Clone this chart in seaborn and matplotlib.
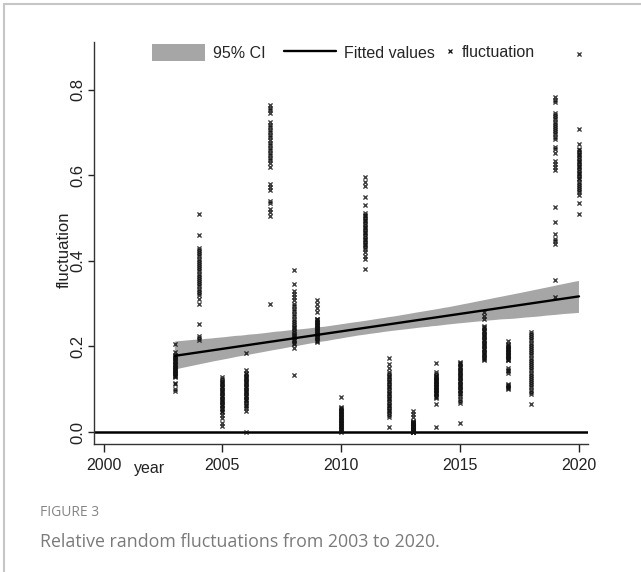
import matplotlib
matplotlib.use("Agg")
import numpy as np
import pandas as pd
import matplotlib.pyplot as plt
from matplotlib.lines import Line2D
from matplotlib.patches import Patch
from matplotlib.collections import PolyCollection
import seaborn as sns

# ---------------- data ----------------
years = [2003, 2004, 2005, 2006, 2007, 2008, 2009, 2010, 2011,
         2012, 2013, 2014, 2015, 2016, 2017, 2018, 2019, 2020]

fluct_2003 = [0.206, 0.187, 0.180, 0.178, 0.175, 0.172, 0.170, 0.168, 0.165, 0.163, 0.160,
              0.158, 0.156, 0.154, 0.152, 0.150, 0.148, 0.146, 0.144, 0.142, 0.140, 0.138,
              0.136, 0.134, 0.132, 0.130, 0.128, 0.115, 0.112, 0.100, 0.096]
fluct_2004 = [0.510, 0.460, 0.430, 0.425, 0.420, 0.415, 0.410, 0.405, 0.400, 0.395, 0.390,
              0.385, 0.380, 0.375, 0.370, 0.365, 0.360, 0.355, 0.350, 0.345, 0.340, 0.335,
              0.330, 0.325, 0.320, 0.310, 0.300, 0.252, 0.225, 0.220, 0.215]
fluct_2005 = [0.128, 0.124, 0.120, 0.117, 0.114, 0.111, 0.108, 0.105, 0.102, 0.099, 0.096,
              0.093, 0.090, 0.087, 0.084, 0.081, 0.078, 0.075, 0.072, 0.069, 0.066, 0.063,
              0.060, 0.057, 0.054, 0.050, 0.046, 0.040, 0.033, 0.020, 0.014]
fluct_2006 = [0.185, 0.145, 0.138, 0.135, 0.132, 0.129, 0.126, 0.123, 0.120, 0.117, 0.114,
              0.111, 0.108, 0.105, 0.102, 0.099, 0.096, 0.093, 0.090, 0.087, 0.084, 0.081,
              0.078, 0.075, 0.072, 0.068, 0.064, 0.060, 0.055, 0.050, 0.000]
fluct_2007 = [0.764, 0.758, 0.752, 0.745, 0.724, 0.718, 0.712, 0.706, 0.700, 0.694, 0.688,
              0.682, 0.676, 0.670, 0.664, 0.658, 0.652, 0.646, 0.640, 0.636, 0.628, 0.619,
              0.580, 0.572, 0.565, 0.540, 0.535, 0.520, 0.515, 0.505, 0.300]
fluct_2008 = [0.379, 0.346, 0.330, 0.322, 0.315, 0.308, 0.300, 0.294, 0.288, 0.282, 0.276,
              0.270, 0.265, 0.260, 0.255, 0.250, 0.246, 0.242, 0.238, 0.234, 0.230, 0.227,
              0.224, 0.221, 0.218, 0.215, 0.212, 0.208, 0.205, 0.196, 0.133]
fluct_2009 = [0.308, 0.300, 0.290, 0.280, 0.265, 0.263, 0.261, 0.259, 0.257, 0.255, 0.253,
              0.251, 0.249, 0.247, 0.245, 0.243, 0.241, 0.239, 0.237, 0.235, 0.233, 0.231,
              0.229, 0.227, 0.225, 0.223, 0.221, 0.219, 0.216, 0.213, 0.210]
fluct_2010 = [0.082, 0.058, 0.056, 0.054, 0.052, 0.050, 0.048, 0.046, 0.044, 0.042, 0.040,
              0.038, 0.036, 0.034, 0.032, 0.030, 0.028, 0.026, 0.024, 0.022, 0.020, 0.018,
              0.016, 0.014, 0.012, 0.010, 0.008, 0.006, 0.004, 0.002, 0.000]
fluct_2011 = [0.595, 0.585, 0.575, 0.550, 0.530, 0.512, 0.508, 0.504, 0.500, 0.496, 0.492,
              0.488, 0.484, 0.480, 0.476, 0.472, 0.468, 0.464, 0.460, 0.456, 0.452, 0.448,
              0.444, 0.440, 0.436, 0.432, 0.428, 0.420, 0.412, 0.405, 0.380]
fluct_2012 = [0.172, 0.160, 0.150, 0.140, 0.136, 0.132, 0.128, 0.124, 0.120, 0.116, 0.112,
              0.108, 0.104, 0.100, 0.096, 0.092, 0.088, 0.084, 0.080, 0.076, 0.072, 0.068,
              0.064, 0.060, 0.056, 0.052, 0.048, 0.044, 0.040, 0.036, 0.012]
fluct_2013 = [0.050, 0.042, 0.034, 0.026, 0.024, 0.023, 0.022, 0.021, 0.020, 0.019, 0.018,
              0.017, 0.016, 0.015, 0.014, 0.013, 0.012, 0.011, 0.010, 0.009, 0.008, 0.007,
              0.006, 0.005, 0.004, 0.003, 0.002, 0.001, 0.000, 0.000, 0.000]
fluct_2014 = [0.161, 0.140, 0.135, 0.132, 0.130, 0.128, 0.126, 0.124, 0.122, 0.120, 0.118,
              0.116, 0.114, 0.112, 0.110, 0.108, 0.106, 0.104, 0.102, 0.100, 0.098, 0.096,
              0.094, 0.092, 0.090, 0.088, 0.085, 0.082, 0.080, 0.065, 0.012]
fluct_2015 = [0.164, 0.161, 0.158, 0.155, 0.152, 0.149, 0.146, 0.143, 0.140, 0.137, 0.134,
              0.131, 0.128, 0.125, 0.122, 0.119, 0.116, 0.113, 0.110, 0.107, 0.104, 0.101,
              0.098, 0.095, 0.092, 0.088, 0.083, 0.078, 0.073, 0.068, 0.021]
fluct_2016 = [0.280, 0.272, 0.265, 0.248, 0.245, 0.242, 0.239, 0.236, 0.233, 0.230, 0.227,
              0.224, 0.221, 0.218, 0.215, 0.212, 0.209, 0.206, 0.203, 0.200, 0.197, 0.194,
              0.191, 0.188, 0.185, 0.182, 0.179, 0.176, 0.173, 0.170, 0.168]
fluct_2017 = [0.213, 0.205, 0.203, 0.201, 0.199, 0.197, 0.195, 0.193, 0.191, 0.189, 0.187,
              0.185, 0.183, 0.181, 0.179, 0.177, 0.175, 0.173, 0.171, 0.169, 0.168, 0.150,
              0.146, 0.142, 0.138, 0.112, 0.110, 0.108, 0.105, 0.103, 0.101]
fluct_2018 = [0.234, 0.229, 0.224, 0.219, 0.214, 0.209, 0.204, 0.199, 0.194, 0.189, 0.184,
              0.179, 0.174, 0.169, 0.164, 0.159, 0.154, 0.149, 0.144, 0.139, 0.134, 0.129,
              0.124, 0.119, 0.114, 0.109, 0.104, 0.099, 0.094, 0.089, 0.065]
fluct_2019 = [0.783, 0.776, 0.770, 0.745, 0.740, 0.735, 0.730, 0.725, 0.720, 0.715, 0.710,
              0.705, 0.700, 0.695, 0.690, 0.685, 0.666, 0.660, 0.652, 0.632, 0.625, 0.618,
              0.612, 0.526, 0.490, 0.462, 0.452, 0.446, 0.440, 0.355, 0.316]
fluct_2020 = [0.883, 0.707, 0.673, 0.662, 0.658, 0.654, 0.650, 0.646, 0.642, 0.638, 0.634,
              0.630, 0.626, 0.622, 0.618, 0.614, 0.610, 0.606, 0.602, 0.598, 0.594, 0.590,
              0.585, 0.580, 0.575, 0.570, 0.565, 0.560, 0.553, 0.535, 0.510]

fluct_by_year = [fluct_2003, fluct_2004, fluct_2005, fluct_2006, fluct_2007, fluct_2008,
                 fluct_2009, fluct_2010, fluct_2011, fluct_2012, fluct_2013, fluct_2014,
                 fluct_2015, fluct_2016, fluct_2017, fluct_2018, fluct_2019, fluct_2020]

x_ticks = [2000, 2005, 2010, 2015, 2020]
y_ticks = [0.0, 0.2, 0.4, 0.6, 0.8]
y_tick_labels = ["0.0", "0.2", "0.4", "0.6", "0.8"]
legend_labels = ["95% CI", "Fitted values", "fluctuation"]
x_title = "year"
y_title = "fluctuation"
caption_head = "FIGURE 3"
caption_text = "Relative random fluctuations from 2003 to 2020."

df = pd.DataFrame({
    "year": [y for y, vals in zip(years, fluct_by_year) for _ in vals],
    "fluctuation": [v for vals in fluct_by_year for v in vals],
})

# ---------------- styling ----------------
sns.set_style("ticks")
REG = ["Liberation Sans", "DejaVu Sans"]
plt.rcParams["font.family"] = REG

W, H = 641, 572
fig = plt.figure(figsize=(W / 100, H / 100), dpi=100)
fig.patch.set_facecolor("white")
ax = fig.add_axes([94 / W, 1 - 444 / H, (588 - 94) / W, (444 - 42) / H])
ax.set_facecolor("white")

BAND = "#a6a6a6"
MK = "#111111"
sns.regplot(data=df, x="year", y="fluctuation", ax=ax, ci=95, n_boot=1000, seed=7,
            marker="x", color="black",
            scatter_kws=dict(s=9, linewidths=1.0, color=MK, zorder=3),
            line_kws=dict(lw=1.7, color="black", zorder=4))
for coll in ax.collections:
    if isinstance(coll, PolyCollection):
        coll.set_facecolor(BAND)
        coll.set_edgecolor("none")
        coll.set_alpha(1.0)
        coll.set_zorder(1)

ax.axhline(0, color="black", lw=1.8, zorder=2)

ax.set_xlim(1999.6, 2020.38)
ax.set_ylim(-0.028, 0.911)
ax.set_xticks(x_ticks)
ax.set_xticklabels([str(t) for t in x_ticks])
ax.set_yticks(y_ticks)
ax.set_yticklabels(y_tick_labels, rotation=90, va="center")
ax.set_xlabel("")
ax.set_ylabel("")

for s in ["top", "right"]:
    ax.spines[s].set_visible(False)
for s in ["left", "bottom"]:
    ax.spines[s].set_color("#333333")
    ax.spines[s].set_linewidth(1.0)

ax.tick_params(axis="x", length=6, width=1, pad=4, labelsize=11.5, colors="#222222")
ax.tick_params(axis="y", length=4.5, width=1, pad=1.5, labelsize=12, colors="#222222")

fig.text(150 / W, 1 - 468 / H, x_title, fontsize=11.5, ha="center", va="center", color="#222222")
fig.text(64 / W, 1 - 250 / H, y_title, fontsize=12, rotation=90, ha="center", va="center",
         color="#222222")

# legend
FS = 11.5
h_band = Patch(facecolor=BAND, edgecolor="none")
h_line = Line2D([], [], color="black", lw=1.7)
h_mark = Line2D([], [], marker="x", ls="none", color=MK, markersize=3.3, markeredgewidth=0.9)
fig.legend([h_band, h_line], legend_labels[:2], loc="center left",
           bbox_to_anchor=(152 / W, 1 - 52.5 / H), ncol=2, frameon=False, fontsize=FS,
           handlelength=3.3, handleheight=1.2, handletextpad=0.5, columnspacing=1.15,
           borderpad=0, borderaxespad=0)
fig.legend([h_mark], legend_labels[2:], loc="center left",
           bbox_to_anchor=(445 / W, 1 - 52.5 / H), frameon=False, fontsize=FS,
           handlelength=0.6, handletextpad=0.45, borderpad=0, borderaxespad=0)

# caption
fig.text(40 / W, 1 - 513 / H, caption_head, fontsize=10, color="#858585",
         family=["Open Sans", "DejaVu Sans"], ha="left", va="center")
fig.text(40 / W, 1 - 542 / H, caption_text, fontsize=12.8, color="#7a7a7a",
         family=["Open Sans", "DejaVu Sans"], ha="left", va="center")

# page frame lines
fig.add_artist(Line2D([4 / W, 1], [1 - 4 / H, 1 - 4 / H], transform=fig.transFigure,
                      color="#c6c6c6", lw=1.5))
fig.add_artist(Line2D([4 / W, 4 / W], [0, 1 - 4 / H], transform=fig.transFigure,
                      color="#c6c6c6", lw=1.5))

fig.savefig("out.png", dpi=100, facecolor="white")
